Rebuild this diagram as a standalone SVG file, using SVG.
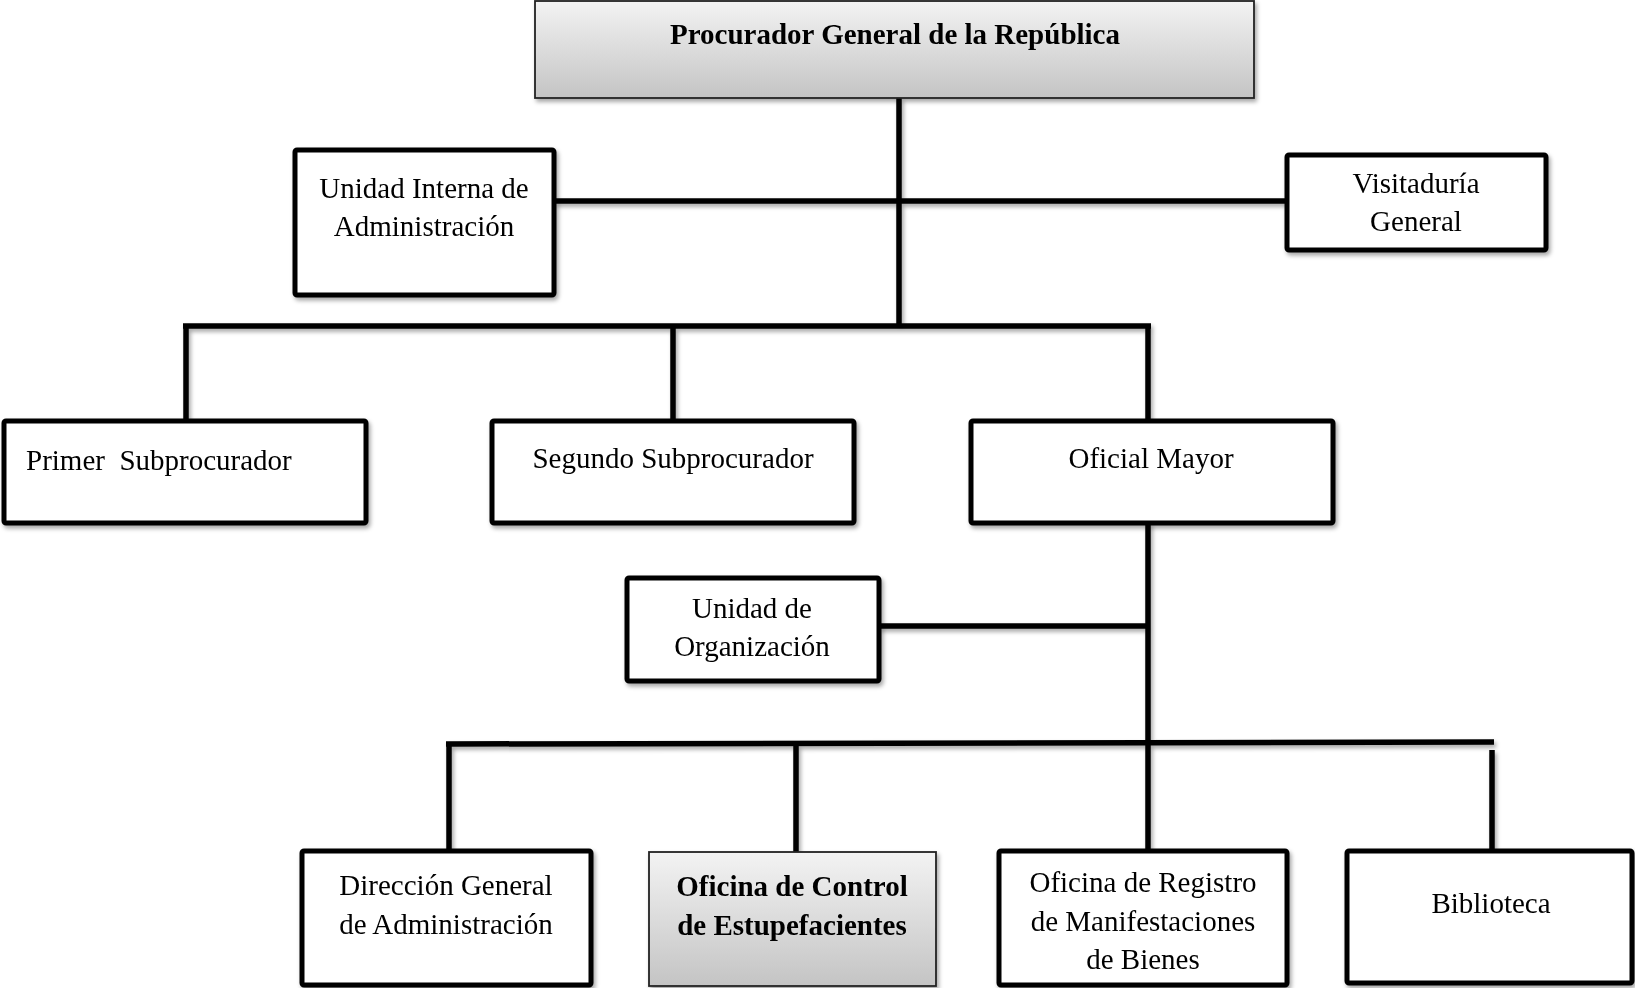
<svg xmlns="http://www.w3.org/2000/svg" width="1635" height="988" viewBox="0 0 1635 988">
<style>
.box{fill:#fff;stroke:#000;stroke-width:5}
.gbox{fill:url(#g);stroke:#222;stroke-width:1.8}
.ln{stroke:#000;stroke-width:5.5;fill:none;stroke-linecap:butt}
text{font-family:"Liberation Serif","Times New Roman",serif;font-size:29px;fill:#000;text-anchor:middle}
.b{font-weight:bold}
</style>
<defs>
<linearGradient id="g" x1="0" y1="0" x2="0" y2="1">
<stop offset="0" stop-color="#f3f3f3"/>
<stop offset="1" stop-color="#c4c4c4"/>
</linearGradient>
<filter id="sh" x="-5%" y="-5%" width="115%" height="120%">
<feDropShadow dx="2" dy="3" stdDeviation="2" flood-color="#000" flood-opacity="0.35"/>
</filter>
</defs>
<g id="connectors" filter="url(#sh)">
<line class="ln" x1="899" y1="98" x2="899" y2="327"/>
<line class="ln" x1="555" y1="201" x2="1286" y2="201"/>
<line class="ln" x1="183" y1="326" x2="1151" y2="326"/>
<line class="ln" x1="186" y1="326" x2="186" y2="420"/>
<line class="ln" x1="673" y1="326" x2="673" y2="420"/>
<line class="ln" x1="1148" y1="326" x2="1148" y2="420"/>
<line class="ln" x1="1148" y1="523" x2="1148" y2="743"/>
<line class="ln" x1="879" y1="626" x2="1148" y2="626"/>
<line class="ln" x1="446" y1="744" x2="1494" y2="742"/>
<line class="ln" x1="449" y1="744" x2="449" y2="850"/>
<line class="ln" x1="796" y1="743" x2="796" y2="852"/>
<line class="ln" x1="1148" y1="743" x2="1148" y2="850"/>
<line class="ln" x1="1492" y1="750" x2="1492" y2="850"/>
</g>
<g id="procurador" filter="url(#sh)">
<rect class="gbox" x="535" y="1" width="719" height="97"/>
<text class="b" x="895" y="44">Procurador General de la República</text>
</g>
<g id="unidad-interna" filter="url(#sh)">
<rect class="box" x="295" y="150" width="259" height="145" rx="2"/>
<text x="424" y="198">Unidad Interna de</text>
<text x="424" y="236">Administración</text>
</g>
<g id="visitaduria" filter="url(#sh)">
<rect class="box" x="1287" y="155" width="259" height="95" rx="2"/>
<text x="1416" y="193">Visitaduría</text>
<text x="1416" y="231">General</text>
</g>
<g id="primer" filter="url(#sh)">
<rect class="box" x="4" y="421" width="362" height="102" rx="2"/>
<text x="26" y="470" style="text-anchor:start;white-space:pre">Primer  Subprocurador</text>
</g>
<g id="segundo" filter="url(#sh)">
<rect class="box" x="492" y="421" width="362" height="102" rx="2"/>
<text x="673" y="468">Segundo Subprocurador</text>
</g>
<g id="oficial-mayor" filter="url(#sh)">
<rect class="box" x="971" y="421" width="362" height="102" rx="2"/>
<text x="1151" y="468">Oficial Mayor</text>
</g>
<g id="unidad-organizacion" filter="url(#sh)">
<rect class="box" x="627" y="578" width="252" height="103" rx="2"/>
<text x="752" y="618">Unidad de</text>
<text x="752" y="656">Organización</text>
</g>
<g id="direccion" filter="url(#sh)">
<rect class="box" x="302" y="851" width="289" height="134" rx="2"/>
<text x="446" y="895">Dirección General</text>
<text x="446" y="934">de Administración</text>
</g>
<g id="oficina-control" filter="url(#sh)">
<rect class="gbox" x="649" y="852" width="287" height="134"/>
<text class="b" x="792" y="896">Oficina de Control</text>
<text class="b" x="792" y="935">de Estupefacientes</text>
</g>
<g id="oficina-registro" filter="url(#sh)">
<rect class="box" x="999" y="851" width="288" height="134" rx="2"/>
<text x="1143" y="892">Oficina de Registro</text>
<text x="1143" y="931">de Manifestaciones</text>
<text x="1143" y="969">de Bienes</text>
</g>
<g id="biblioteca" filter="url(#sh)">
<rect class="box" x="1347" y="851" width="285" height="132" rx="2"/>
<text x="1491" y="913">Biblioteca</text>
</g>
</svg>
